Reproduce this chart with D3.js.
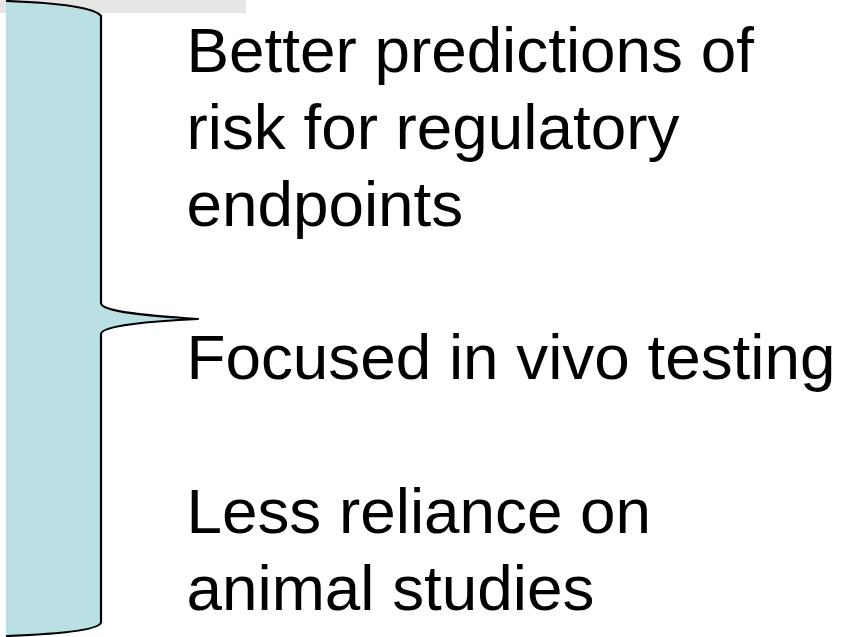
<!DOCTYPE html>
<html>
<head>
<meta charset="utf-8">
<script src="https://cdn.jsdelivr.net/npm/d3@7"></script>
<style>
  body { margin: 0; background: #fff; }
  svg { display: block; }
</style>
</head>
<body>
<div id="slide"></div>
<script>
// text lines of the slide, blank strings are the gaps between points
const lines = [
    "Better predictions of",
    "risk for regulatory",
    "endpoints",
    "",
    "Focused in vivo testing",
    "",
    "Less reliance on",
    "animal studies"
];
// brace outline, in slide units (x across, y down)
const braceTop = [[6, 1], [60, 3], [95, 8], [101, 16]];
const braceUpper = [[101, 303], [101, 312], [150, 316], [198, 319]];
const braceLower = [[150, 321], [101, 326], [101, 334]];
const braceBottom = [[101, 622], [101, 630], [60, 634], [6, 636]];

class Slide {
    constructor(parentElement) {
        this.parentElement = parentElement;
        this.initVis();
    }

    initVis() {
        let vis = this;
        vis.width = 846;
        vis.height = 637;

        vis.svg = d3.select("#" + vis.parentElement).append("svg")
            .attr("width", vis.width)
            .attr("height", vis.height);

        vis.x = d3.scaleLinear().domain([0, 846]).range([0, vis.width]);
        vis.y = d3.scaleLinear().domain([0, 637]).range([0, vis.height]);
        // line index -> baseline
        vis.lineY = d3.scaleLinear().domain([0, lines.length - 1]).range([72, 610]);

        // grey strip at the top
        vis.svg.append("rect")
            .attr("x", vis.x(0)).attr("y", vis.y(0))
            .attr("width", vis.x(246)).attr("height", vis.y(13))
            .attr("fill", "#e6e6e6");

        vis.drawBrace();
        vis.drawText();
    }

    drawBrace() {
        let vis = this;
        const p = pt => [vis.x(pt[0]), vis.y(pt[1])];
        const build = (closed) => {
            let path = d3.path();
            let s = p(braceTop[0]);
            path.moveTo(s[0], s[1]);
            let a = braceTop.slice(1).map(p);
            path.bezierCurveTo(a[0][0], a[0][1], a[1][0], a[1][1], a[2][0], a[2][1]);
            let u = braceUpper.map(p);
            path.lineTo(u[0][0], u[0][1]);
            path.bezierCurveTo(u[1][0], u[1][1], u[2][0], u[2][1], u[3][0], u[3][1]);
            let l = braceLower.map(p);
            path.bezierCurveTo(l[0][0], l[0][1], l[1][0], l[1][1], l[2][0], l[2][1]);
            let b = braceBottom.map(p);
            path.lineTo(b[0][0], b[0][1]);
            path.bezierCurveTo(b[1][0], b[1][1], b[2][0], b[2][1], b[3][0], b[3][1]);
            if (closed) path.closePath();
            return path.toString();
        };

        vis.svg.append("path")
            .attr("d", build(true))
            .attr("fill", "#bbe0e3")
            .attr("stroke", "none");

        vis.svg.append("path")
            .attr("d", build(false))
            .attr("fill", "none")
            .attr("stroke", "#000")
            .attr("stroke-width", 2.2)
            .attr("stroke-linejoin", "round");
    }

    drawText() {
        let vis = this;
        vis.svg.selectAll(".line")
            .data(lines)
            .enter()
            .append("text")
            .attr("class", "line")
            .attr("x", vis.x(186.5))
            .attr("y", (d, i) => vis.lineY(i))
            .attr("font-family", "'Liberation Sans', Arial, sans-serif")
            .attr("font-size", "63.8px")
            .attr("fill", "#000")
            .text(d => d);
    }
}

new Slide("slide");
</script>
</body>
</html>
